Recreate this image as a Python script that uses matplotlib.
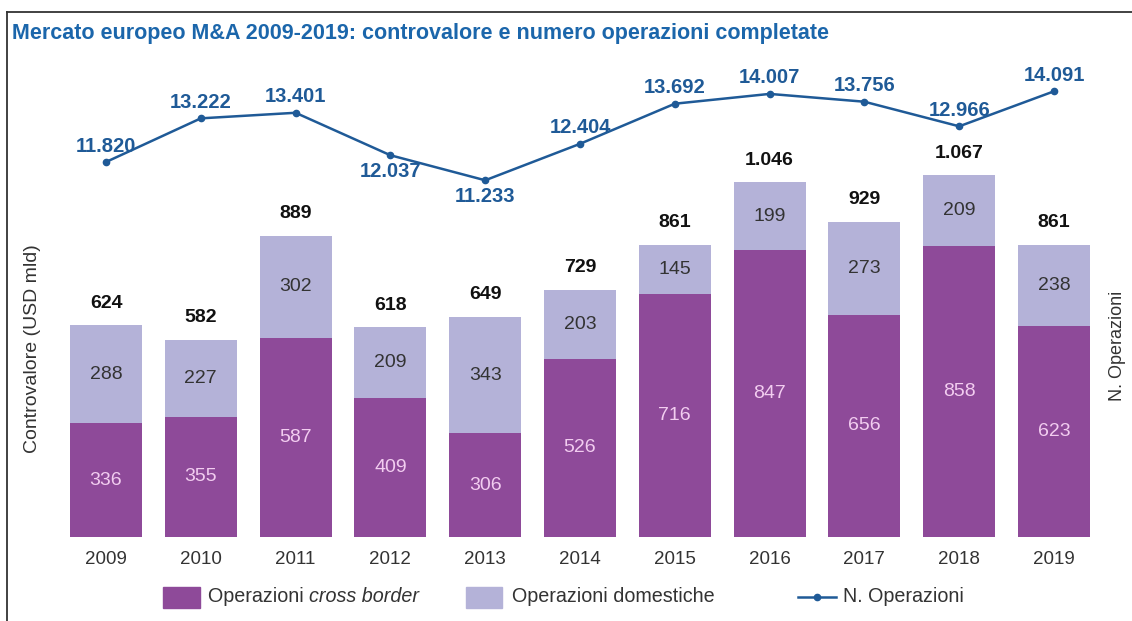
import matplotlib
matplotlib.use("Agg")
import matplotlib.pyplot as plt
from matplotlib.patches import Rectangle
from matplotlib.lines import Line2D

years = ["2009", "2010", "2011", "2012", "2013", "2014", "2015", "2016", "2017", "2018", "2019"]
cross_border = [336, 355, 587, 409, 306, 526, 716, 847, 656, 858, 623]
domestiche = [288, 227, 302, 209, 343, 203, 145, 199, 273, 209, 238]
totale = [624, 582, 889, 618, 649, 729, 861, 1046, 929, 1067, 861]
n_operazioni = [11820, 13222, 13401, 12037, 11233, 12404, 13692, 14007, 13756, 12966, 14091]
below_labels = [False, False, False, True, True, False, False, False, False, False, False]

PURPLE = "#8E4A99"
LAVENDER = "#B4B2D8"
LINE = "#1F5A97"
TITLE = "#1B66AB"
GREY = "#333333"

plt.rcParams["font.family"] = ["Liberation Sans", "DejaVu Sans"]

W, H = 1132, 621
fig = plt.figure(figsize=(W / 100, H / 100), dpi=100)

def fx(px):
    return px / W

def fy(py):
    return 1 - py / H

ax = fig.add_axes([fx(58.6), fy(537), fx(1101.4 - 58.6), (537 - 40) / H])
x = list(range(len(years)))
ax.bar(x, cross_border, width=0.76, color=PURPLE)
ax.bar(x, domestiche, width=0.76, bottom=cross_border, color=LAVENDER)
ax.set_xlim(-0.5, 10.5)
ax.set_ylim(0, 1466)
for s in ax.spines.values():
    s.set_visible(False)
ax.set_yticks([])
ax.set_xticks(x)
ax.set_xticklabels(years, fontsize=13.5, color=GREY)
ax.tick_params(axis="x", length=0, pad=10)

for i in x:
    cb, dm, tt = cross_border[i], domestiche[i], totale[i]
    ax.text(i, cb / 2, str(cb), ha="center", va="center", fontsize=14, color="#F2CDF0")
    ax.text(i, cb + dm / 2, str(dm), ha="center", va="center", fontsize=14, color="#333333")
    lab = f"{tt:,}".replace(",", ".")
    ax.annotate(lab, (i, cb + dm), xytext=(0, 16), textcoords="offset points",
                ha="center", va="center", fontsize=14, fontweight="bold", color="#111111")

ax2 = ax.twinx()
ax2.set_ylim(-222, 15738)
ax2.set_yticks([])
for s in ax2.spines.values():
    s.set_visible(False)
ax2.plot(x, n_operazioni, color=LINE, lw=1.8, marker="o", markersize=4.5)
for i in x:
    v = n_operazioni[i]
    lab = f"{v:,}".replace(",", ".")
    dy = -12 if below_labels[i] else 11.5
    ax2.annotate(lab, (i, v), xytext=(0, dy), textcoords="offset points",
                 ha="center", va="center", fontsize=14.5, fontweight="bold", color=LINE)

# axis titles
fig.text(fx(33), fy(349), "Controvalore (USD mld)", rotation=90, ha="center", va="center",
         fontsize=14, color=GREY)
fig.text(fx(1118), fy(346), "N. Operazioni", rotation=90, ha="center", va="center",
         fontsize=13, color=GREY)

# title
fig.text(fx(12), fy(33), "Mercato europeo M&A 2009-2019: controvalore e numero operazioni completate",
         ha="left", va="center", fontsize=15.5, fontweight="bold", color=TITLE)

# border
fig.add_artist(Line2D([fx(7), fx(W)], [fy(12), fy(12)], color="#333333", lw=1.3))
fig.add_artist(Line2D([fx(7), fx(7)], [fy(12), fy(H)], color="#333333", lw=1.3))

# legend (manual)
ly = 597
fig.add_artist(Rectangle((fx(163), fy(608)), fx(37), 21 / H, color=PURPLE))
fig.add_artist(Rectangle((fx(466), fy(608)), fx(36), 21 / H, color=LAVENDER))
fig.add_artist(Line2D([fx(798), fx(836)], [fy(ly), fy(ly)], color=LINE, lw=1.8))
fig.add_artist(Line2D([fx(817)], [fy(ly)], color=LINE, marker="o", markersize=4.5, lw=0))

t1 = fig.text(fx(208), fy(ly), "Operazioni ", ha="left", va="center", fontsize=14.2, color=GREY)
fig.canvas.draw()
bb = t1.get_window_extent()
fig.text(bb.x1 / W, fy(ly), "cross border", ha="left", va="center", fontsize=14.2,
         style="italic", color=GREY)
fig.text(fx(512), fy(ly), "Operazioni domestiche", ha="left", va="center", fontsize=14.2, color=GREY)
fig.text(fx(843), fy(ly), "N. Operazioni", ha="left", va="center", fontsize=14.2, color=GREY)

fig.savefig("out.png", dpi=100)
